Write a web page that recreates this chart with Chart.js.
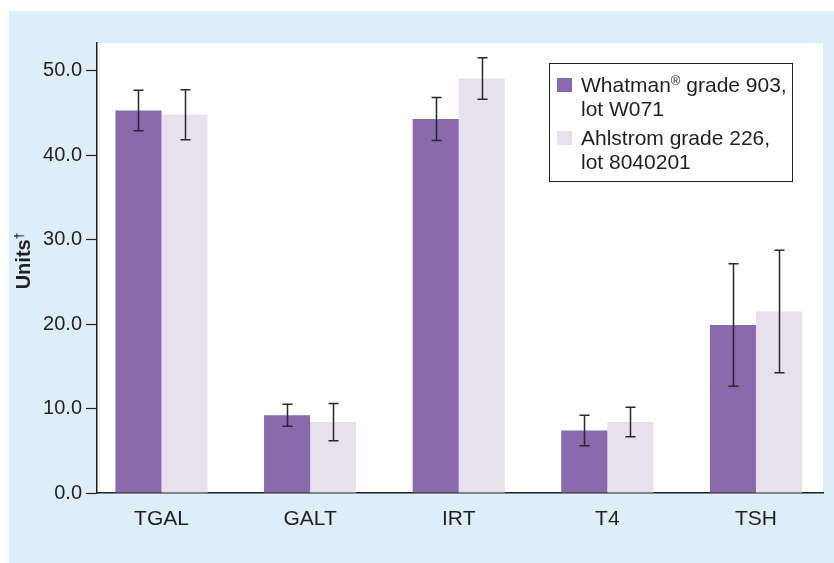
<!DOCTYPE html>
<html lang="en">
<head>
  <meta charset="UTF-8">
  <title>Filter paper comparison</title>
  <script src="https://cdn.jsdelivr.net/npm/chart.js"></script>
  <style>
    body { margin: 0; background: #fff; }
    canvas { display: block; }
  </style>
</head>
<body>
  <canvas id="barChart" width="834" height="563"></canvas>

  <script>
    // Analytes on the x axis
    const categories = ['TGAL', 'GALT', 'IRT', 'T4', 'TSH'];

    // Mean and standard deviation for each paper
    const whatmanMeans = [45.3, 9.2, 44.3, 7.4, 19.9];
    const whatmanSD = [2.4, 1.3, 2.55, 1.8, 7.25];
    const ahlstromMeans = [44.8, 8.4, 49.1, 8.4, 21.5];
    const ahlstromSD = [2.95, 2.2, 2.45, 1.75, 7.25];

    // Legend text, one entry per series (each entry is its lines)
    const seriesLabels = [
      ['Whatman® grade 903,', 'lot W071'],
      ['Ahlstrom grade 226,', 'lot 8040201']
    ];

    const yTicks = [0, 10, 20, 30, 40, 50];

    const FONT = '"Liberation Sans", Arial, Helvetica, sans-serif';
    const TEXT = '#231f20';
    const PURPLE = '#8a69ac';
    const LAVENDER = '#e6e0ef';
    const BLUE = '#ddeef8';

    // panel background: light blue frame, white plot area
    const panelBackground = {
      id: 'panelBackground',
      beforeDraw(chart) {
        const ctx = chart.ctx;
        const a = chart.chartArea;
        ctx.save();
        ctx.fillStyle = '#fff';
        ctx.fillRect(0, 0, chart.width, chart.height);
        ctx.fillStyle = BLUE;
        ctx.fillRect(9, 11, chart.width - 9, chart.height - 11);
        ctx.fillStyle = '#fff';
        ctx.fillRect(a.left, a.top, a.right - a.left, a.bottom - a.top);
        ctx.restore();
      }
    };

    // error bars (mean +/- SD) on top of every bar
    const errorBars = {
      id: 'errorBars',
      afterDatasetsDraw(chart) {
        const ctx = chart.ctx;
        const yScale = chart.scales.y;
        ctx.save();
        ctx.strokeStyle = '#2b2628';
        ctx.lineWidth = 1.5;
        chart.data.datasets.forEach((ds, di) => {
          const meta = chart.getDatasetMeta(di);
          meta.data.forEach((bar, i) => {
            const mean = ds.data[i];
            const sd = ds.sd[i];
            const yHi = yScale.getPixelForValue(mean + sd);
            const yLo = yScale.getPixelForValue(mean - sd);
            const x = Math.round(bar.x) + 0.5;
            ctx.beginPath();
            ctx.moveTo(x, yHi);
            ctx.lineTo(x, yLo);
            ctx.moveTo(x - 5, yHi);
            ctx.lineTo(x + 5, yHi);
            ctx.moveTo(x - 5, yLo);
            ctx.lineTo(x + 5, yLo);
            ctx.stroke();
          });
        });
        ctx.restore();
      }
    };

    // draws a string, shrinking and raising any ® or † characters
    function drawRich(ctx, text, x, y, size, weight) {
      let cx = x;
      for (const ch of text) {
        const sup = ch === '®' || ch === '†';
        ctx.font = weight + ' ' + (sup ? Math.round(size * 0.6) : size) + 'px ' + FONT;
        ctx.fillText(ch, cx, sup ? y - size * 0.35 : y);
        cx += ctx.measureText(ch).width;
      }
      return cx;
    }

    function richWidth(ctx, text, size, weight) {
      let w = 0;
      for (const ch of text) {
        const sup = ch === '®' || ch === '†';
        ctx.font = weight + ' ' + (sup ? Math.round(size * 0.6) : size) + 'px ' + FONT;
        w += ctx.measureText(ch).width;
      }
      return w;
    }

    // boxed legend in the top right corner and the y axis title
    const boxLegendAndTitle = {
      id: 'boxLegendAndTitle',
      afterDraw(chart) {
        const ctx = chart.ctx;
        const a = chart.chartArea;
        ctx.save();

        // legend box
        const boxX = 549.5, boxY = 63.5, boxW = 243, boxH = 118;
        ctx.fillStyle = '#fff';
        ctx.fillRect(boxX, boxY, boxW, boxH);
        ctx.strokeStyle = '#231f20';
        ctx.lineWidth = 1;
        ctx.strokeRect(boxX, boxY, boxW, boxH);

        ctx.textBaseline = 'alphabetic';
        ctx.textAlign = 'left';
        let baseline = 92;
        chart.data.datasets.forEach((ds, di) => {
          ctx.fillStyle = ds.backgroundColor;
          ctx.fillRect(557, baseline - 14, 15, 14);
          ctx.fillStyle = TEXT;
          seriesLabels[di].forEach((line, li) => {
            drawRich(ctx, line, 581, baseline + li * 24, 21, 'normal');
          });
          baseline += 53;
        });

        // y axis title, rotated
        const title = 'Units†';
        const tw = richWidth(ctx, title, 20, 'bold');
        ctx.translate(30, (a.top + a.bottom) / 2 - 7);
        ctx.rotate(-Math.PI / 2);
        ctx.fillStyle = TEXT;
        drawRich(ctx, title, -tw / 2, 0, 20, 'bold');
        ctx.restore();
      }
    };

    const ctx = document.getElementById('barChart').getContext('2d');
    const barChart = new Chart(ctx, {
      type: 'bar',
      data: {
        labels: categories.map((c, i) => i),
        datasets: [
          {
            label: seriesLabels[0].join(' '),
            data: whatmanMeans,
            sd: whatmanSD,
            backgroundColor: PURPLE,
            categoryPercentage: 0.62,
            barPercentage: 1.0
          },
          {
            label: seriesLabels[1].join(' '),
            data: ahlstromMeans,
            sd: ahlstromSD,
            backgroundColor: LAVENDER,
            categoryPercentage: 0.62,
            barPercentage: 1.0
          }
        ]
      },
      options: {
        responsive: false,
        animation: false,
        layout: {
          padding: { left: 0, top: 43, right: 11, bottom: 0 }
        },
        plugins: {
          legend: { display: false },
          tooltip: { enabled: false }
        },
        scales: {
          x: {
            type: 'linear',
            offset: false,
            min: -0.434,
            max: 4.451,
            afterBuildTicks: (scale) => {
              scale.ticks = categories.map((c, i) => ({ value: i }));
            },
            afterFit: (scale) => { scale.height = 70; },
            ticks: {
              callback: (v) => categories[v],
              color: TEXT,
              font: { family: FONT, size: 21 },
              padding: 6,
              maxRotation: 0
            },
            grid: { display: false, offset: false },
            border: { display: true, color: '#231f20', width: 1.5 }
          },
          y: {
            min: 0,
            max: 53.3,
            afterBuildTicks: (scale) => {
              scale.ticks = yTicks.map(v => ({ value: v }));
            },
            afterFit: (scale) => { scale.width = 97; },
            ticks: {
              callback: (v) => v.toFixed(1),
              color: TEXT,
              font: { family: FONT, size: 20 },
              padding: 4
            },
            grid: {
              drawOnChartArea: false,
              drawTicks: true,
              tickLength: 11,
              tickColor: '#231f20',
              tickWidth: 1.2
            },
            border: { display: true, color: '#231f20', width: 1.5 }
          }
        }
      },
      plugins: [panelBackground, errorBars, boxLegendAndTitle]
    });
  </script>
</body>
</html>
